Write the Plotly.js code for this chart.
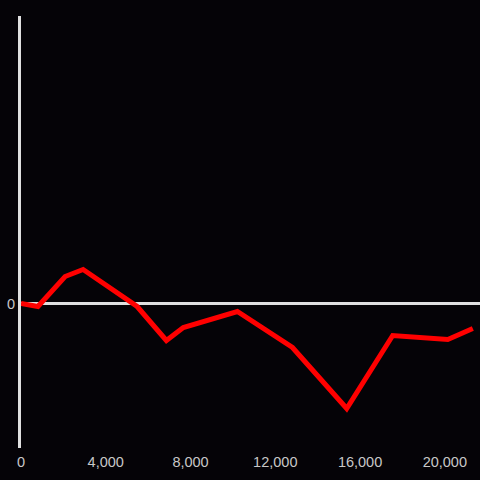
<!DOCTYPE html>
<html>
<head>
<meta charset="utf-8">
<script src="https://cdn.plot.ly/plotly-3.0.1.min.js"></script>
<style>html,body{margin:0;padding:0;background:#050307;}#chart{width:480px;height:480px;}</style>
</head>
<body>
<div id="chart"></div>
<script>
const xValues = [0, 800, 2080, 2930, 5480, 6860, 7660, 10210, 12810, 15370, 17540, 20140, 21320];
const yValues = [0, -30, 270, 340, -30, -370, -240, -80, -440, -1050, -320, -360, -250];
const xTicks = [0, 4000, 8000, 12000, 16000, 20000];
const yTicks = [0];

const trace = {
  x: xValues, y: yValues, type: 'scatter', mode: 'lines',
  line: {color: '#ff0000', width: 5},
  hoverinfo: 'skip'
};
const layout = {
  width: 480, height: 480,
  paper_bgcolor: '#050307', plot_bgcolor: '#050307',
  margin: {l: 21, r: 0, t: 16, b: 32},
  showlegend: false,
  font: {family: 'Liberation Sans, Arial, sans-serif', color: '#c8c8c8', size: 14.5},
  xaxis: {
    range: [0, 21660], tickvals: xTicks, tickformat: ',',
    showgrid: false, zeroline: false, showline: false, ticks: '',
    ticklabelstandoff: 3,
    tickfont: {size: 14.5, color: '#c8c8c8'}
  },
  yaxis: {
    range: [-1445, 2875], tickvals: yTicks,
    showgrid: false, zeroline: true, zerolinecolor: '#e0e0e0', zerolinewidth: 3,
    showline: true, linecolor: '#e0e0e0', linewidth: 3, ticks: '',
    tickfont: {size: 14.5, color: '#c8c8c8'}
  }
};
Plotly.newPlot('chart', [trace], layout, {displayModeBar: false, staticPlot: true});
</script>
</body>
</html>
